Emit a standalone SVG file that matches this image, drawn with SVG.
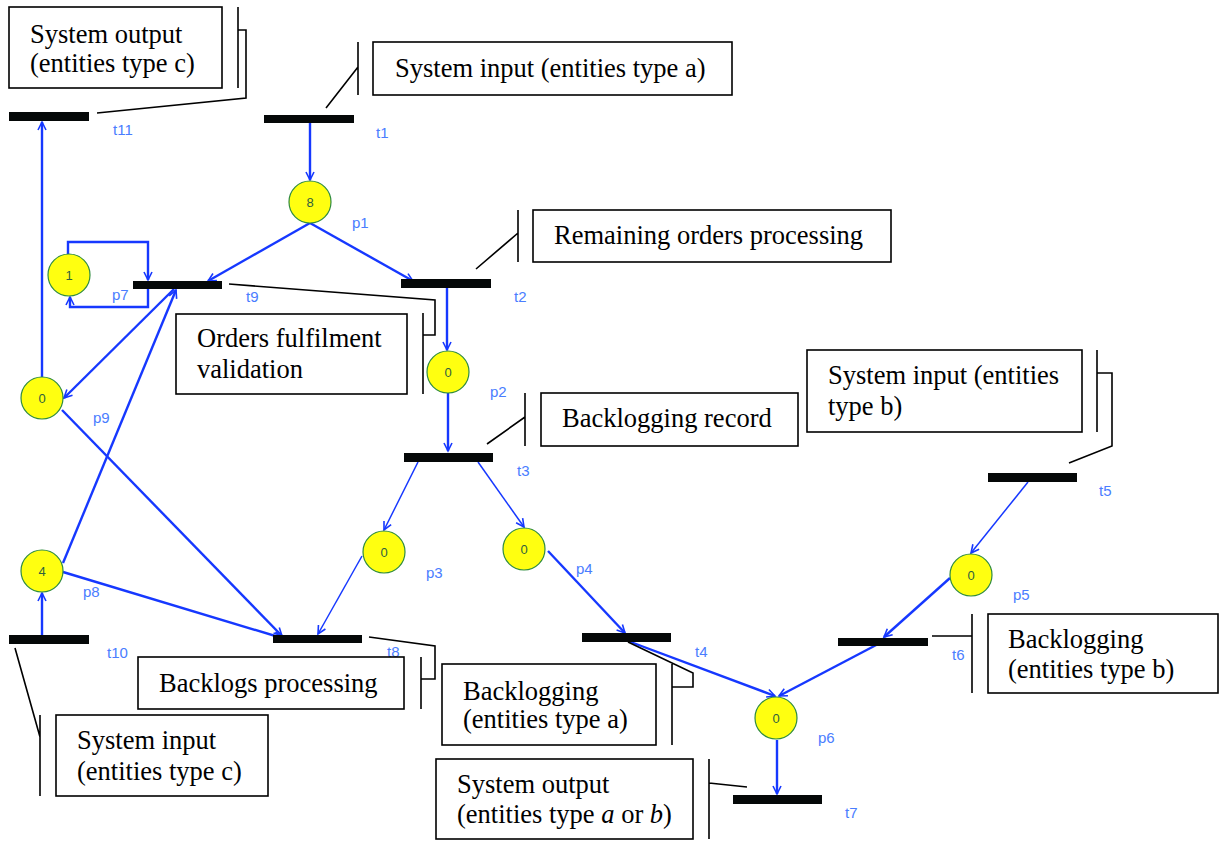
<svg xmlns="http://www.w3.org/2000/svg" width="1220" height="841" viewBox="0 0 1220 841">
<style>
.tr{fill:#050808}
.pl{fill:#ffff10;stroke:#2e8b3e;stroke-width:1.2}
.tok{font-family:"Liberation Sans",Arial,sans-serif;font-size:13px;fill:#2f5f3f;text-anchor:middle}
.lbl{font-family:"Liberation Sans",Arial,sans-serif;font-size:15px;fill:#4a7dff}
.arc{fill:none;stroke:#1638ff;stroke-width:2.4;marker-end:url(#ah)}
.thin{stroke-width:1.5}
.box{fill:#fff;stroke:#000;stroke-width:1.6}
.lead{fill:none;stroke:#000;stroke-width:1.6}
.cap{font-family:"Liberation Serif","Times New Roman",serif;font-size:26.5px;fill:#000}
</style>
<defs>
<marker id="ah" markerWidth="12" markerHeight="12" refX="9" refY="5" orient="auto" markerUnits="userSpaceOnUse">
<path d="M1,1 L9,5 L1,9" fill="none" stroke="#1638ff" stroke-width="1.6"/>
</marker>
</defs>
<rect width="1220" height="841" fill="#fff"/>

<g id="connectors">
<path class="arc" d="M310,123 V180"/>
<path class="arc" d="M310,223 L208,281"/>
<path class="arc" d="M310,223 L413,281"/>
<path class="arc" d="M447,288 V350"/>
<path class="arc" d="M448,393 V451"/>
<path class="arc thin" d="M418,462 L384,530"/>
<path class="arc thin" d="M478,462 L524,527"/>
<path class="arc thin" d="M362,556 L318,634"/>
<path class="arc" d="M548,551 L625,633"/>
<path class="arc" d="M628,641 L775,696"/>
<path class="arc" d="M880,643 L779,696"/>
<path class="arc" d="M950,578 L884,637"/>
<path class="arc thin" d="M1028,482 L971,553"/>
<path class="arc" d="M777,740 V794"/>
<path class="arc" d="M42,377 V122"/>
<path class="arc" d="M174,289 L64,398"/>
<path class="arc" d="M63,563 L176,290"/>
<path class="arc" d="M62,410 L282,636"/>
<path class="arc" d="M63,572 L282,638"/>
<path class="arc" d="M42,635 V593"/>
<path class="arc" d="M68,254 V242 H148 V280"/>
<path class="arc" d="M148,289 V307 H70 V297"/>
</g>

<g id="t1"><rect class="tr" x="264" y="115" width="90" height="8"/><text class="lbl" x="376" y="138">t1</text></g>
<g id="t2"><rect class="tr" x="401" y="279" width="90" height="9"/><text class="lbl" x="514" y="302">t2</text></g>
<g id="t3"><rect class="tr" x="404" y="453" width="89" height="9"/><text class="lbl" x="517" y="476">t3</text></g>
<g id="t4"><rect class="tr" x="582" y="633" width="89" height="9"/><text class="lbl" x="695" y="657">t4</text></g>
<g id="t5"><rect class="tr" x="988" y="473" width="89" height="9"/><text class="lbl" x="1099" y="496">t5</text></g>
<g id="t6"><rect class="tr" x="838" y="638" width="90" height="8"/><text class="lbl" x="952" y="660">t6</text></g>
<g id="t7"><rect class="tr" x="733" y="795" width="89" height="9"/><text class="lbl" x="845" y="818">t7</text></g>
<g id="t8"><rect class="tr" x="273" y="635" width="89" height="8"/><text class="lbl" x="387" y="657">t8</text></g>
<g id="t9"><rect class="tr" x="133" y="281" width="89" height="8"/><text class="lbl" x="246" y="302">t9</text></g>
<g id="t10"><rect class="tr" x="9" y="635" width="80" height="9"/><text class="lbl" x="107" y="658">t10</text></g>
<g id="t11"><rect class="tr" x="9" y="112" width="80" height="9"/><text class="lbl" x="113" y="135">t11</text></g>

<g id="p1"><circle class="pl" cx="310" cy="202" r="21"/><text class="tok" x="310" y="207">8</text><text class="lbl" x="352" y="228">p1</text></g>
<g id="p2"><circle class="pl" cx="448" cy="372" r="21"/><text class="tok" x="448" y="377">0</text><text class="lbl" x="490" y="397">p2</text></g>
<g id="p3"><circle class="pl" cx="384" cy="552" r="21"/><text class="tok" x="384" y="557">0</text><text class="lbl" x="426" y="578">p3</text></g>
<g id="p4"><circle class="pl" cx="524" cy="549" r="21"/><text class="tok" x="524" y="554">0</text><text class="lbl" x="576" y="574">p4</text></g>
<g id="p5"><circle class="pl" cx="971" cy="575" r="21"/><text class="tok" x="971" y="580">0</text><text class="lbl" x="1013" y="600">p5</text></g>
<g id="p6"><circle class="pl" cx="776" cy="718" r="21"/><text class="tok" x="776" y="723">0</text><text class="lbl" x="818" y="743">p6</text></g>
<g id="p7"><circle class="pl" cx="69" cy="275" r="21"/><text class="tok" x="69" y="280">1</text><text class="lbl" x="112" y="300">p7</text></g>
<g id="p8"><circle class="pl" cx="42" cy="571" r="21"/><text class="tok" x="42" y="576">4</text><text class="lbl" x="83" y="597">p8</text></g>
<g id="p9"><circle class="pl" cx="42" cy="398" r="21"/><text class="tok" x="42" y="403">0</text><text class="lbl" x="93" y="423">p9</text></g>

<g id="callout-output-c">
<rect class="box" x="9" y="7" width="213" height="81"/>
<text class="cap" x="30" y="43">System output</text>
<text class="cap" x="30" y="72">(entities type c)</text>
<path class="lead" d="M238,7 V88 M238,30 H246 V98 L97,113"/>
</g>
<g id="callout-input-a">
<rect class="box" x="373" y="42" width="359" height="53"/>
<text class="cap" x="395" y="77">System input (entities type a)</text>
<path class="lead" d="M358,42 V95 M358,67 L326,108"/>
</g>
<g id="callout-remaining">
<rect class="box" x="533" y="210" width="358" height="52"/>
<text class="cap" x="554" y="244">Remaining orders processing</text>
<path class="lead" d="M518,210 V262 M518,233 L476,269"/>
</g>
<g id="callout-validation">
<rect class="box" x="176" y="314" width="231" height="80"/>
<text class="cap" x="197" y="347">Orders fulfilment</text>
<text class="cap" x="197" y="378">validation</text>
<path class="lead" d="M423,313 V394 M229,284 L435,300 V335 H423"/>
</g>
<g id="callout-backlog-record">
<rect class="box" x="541" y="393" width="257" height="53"/>
<text class="cap" x="562" y="427">Backlogging record</text>
<path class="lead" d="M525,393 V446 M525,417 L487,444"/>
</g>
<g id="callout-input-b">
<rect class="box" x="807" y="350" width="275" height="82"/>
<text class="cap" x="828" y="384">System input (entities</text>
<text class="cap" x="828" y="415">type b)</text>
<path class="lead" d="M1097,350 V432 M1097,373 H1112 V446 L1069,463"/>
</g>
<g id="callout-backlog-b">
<rect class="box" x="988" y="614" width="230" height="79"/>
<text class="cap" x="1008" y="648">Backlogging</text>
<text class="cap" x="1008" y="678">(entities type b)</text>
<path class="lead" d="M972,614 V693 M932,636 H972"/>
</g>
<g id="callout-backlogs-processing">
<rect class="box" x="138" y="657" width="266" height="52"/>
<text class="cap" x="159" y="692">Backlogs processing</text>
<path class="lead" d="M421,657 V709 M369,637 L435,646 V679 H421"/>
</g>
<g id="callout-input-c">
<rect class="box" x="56" y="715" width="212" height="81"/>
<text class="cap" x="77" y="749">System input</text>
<text class="cap" x="77" y="780">(entities type c)</text>
<path class="lead" d="M40,715 V796 M40,737 L15,648"/>
</g>
<g id="callout-backlog-a">
<rect class="box" x="442" y="664" width="214" height="81"/>
<text class="cap" x="463" y="700">Backlogging</text>
<text class="cap" x="463" y="728">(entities type a)</text>
<path class="lead" d="M672,664 V745 M628,642 L693,673 V687 H672"/>
</g>
<g id="callout-output-ab">
<rect class="box" x="436" y="759" width="257" height="80"/>
<text class="cap" x="457" y="793">System output</text>
<text class="cap" x="457" y="823">(entities type <tspan font-style="italic">a</tspan> or <tspan font-style="italic">b</tspan>)</text>
<path class="lead" d="M709,759 V839 M709,783 L747,787"/>
</g>
</svg>
